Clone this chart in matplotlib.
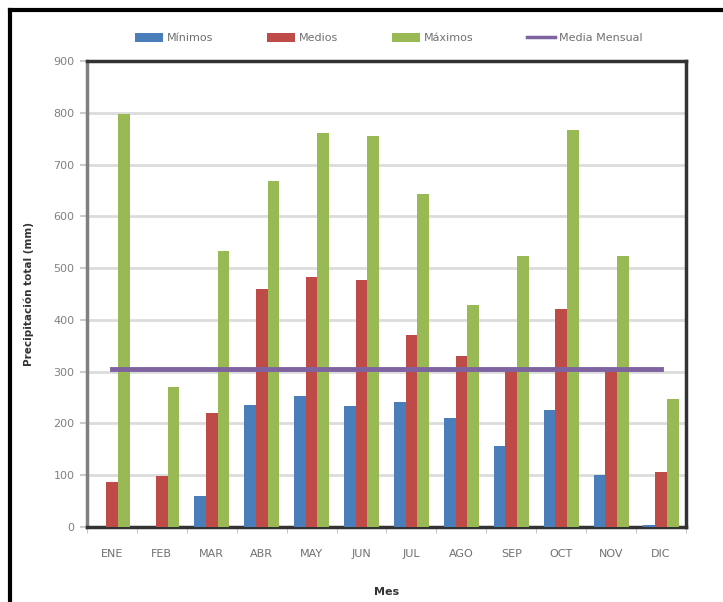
import matplotlib
matplotlib.use("Agg")
import matplotlib.pyplot as plt
import numpy as np
from matplotlib.lines import Line2D
from matplotlib.patches import Patch

months = ["ENE", "FEB", "MAR", "ABR", "MAY", "JUN", "JUL", "AGO", "SEP", "OCT", "NOV", "DIC"]
minimos = [0, 0, 60, 235, 253, 234, 242, 211, 157, 226, 101, 3]
medios = [86, 98, 221, 460, 483, 478, 371, 331, 305, 421, 305, 107]
maximos = [797, 270, 533, 668, 761, 755, 643, 428, 523, 766, 523, 247]
media_mensual = 305

c_blue = "#4A7EBB"
c_red = "#BE4B48"
c_green = "#98B954"
c_purple = "#7F63A1"

fig = plt.figure(figsize=(7.23, 6.02), dpi=100)
ax = fig.add_axes([87/723, 1 - 527/602, (686 - 87)/723, (527 - 61)/602])

x = np.arange(len(months))
w = 0.235
ax.bar(x - w, minimos, w, color=c_blue, zorder=3)
ax.bar(x, medios, w, color=c_red, zorder=3)
ax.bar(x + w, maximos, w, color=c_green, zorder=3)
ax.plot([x[0], x[-1]], [media_mensual, media_mensual], color=c_purple, lw=3.5, zorder=4)

ax.set_xlim(-0.5, len(months) - 0.5)
ax.set_ylim(0, 900)
ax.set_yticks(np.arange(0, 901, 100))
ax.grid(axis="y", color="#dcdcdc", lw=2, zorder=0)
ax.set_axisbelow(True)

ax.set_xticks(x)
ax.set_xticklabels(months)
ax.set_xticks(np.arange(-0.5, len(months), 1), minor=True)
ax.tick_params(axis="x", which="major", length=0, pad=16, labelsize=8, labelcolor="#707070")
ax.tick_params(axis="x", which="minor", length=4, color="#bbbbbb", direction="out")
ax.tick_params(axis="y", length=5, color="#cccccc", width=1.5, pad=4, labelsize=8, labelcolor="#808080")

for s in ["top", "right", "bottom"]:
    ax.spines[s].set_color("#333333")
    ax.spines[s].set_linewidth(2.5)
ax.spines["left"].set_color("#808080")
ax.spines["left"].set_linewidth(2.5)

ax.set_ylabel("Precipitación total (mm)", fontsize=7.5, fontweight="bold", color="#333333", labelpad=14)
ax.set_xlabel("Mes", fontsize=8, fontweight="bold", color="#333333", labelpad=20)

handles = [
    Patch(facecolor=c_blue, label="Mínimos"),
    Patch(facecolor=c_red, label="Medios"),
    Patch(facecolor=c_green, label="Máximos"),
    Line2D([0], [0], color=c_purple, lw=2.5, label="Media Mensual"),
]
fig.legend(handles=handles, loc="center", bbox_to_anchor=(0.538, 1 - 38/602), ncol=4,
           frameon=False, fontsize=8, labelcolor="#707070", handlelength=2.5,
           handleheight=0.9, columnspacing=4.8, handletextpad=0.4)

# outer frame (top and left edges only)
fig.add_artist(Line2D([10/723, 10/723], [0, 1 - 10/602], color="black", lw=3, transform=fig.transFigure))
fig.add_artist(Line2D([10/723, 1], [1 - 10/602, 1 - 10/602], color="black", lw=3, transform=fig.transFigure))

fig.savefig("out.png", dpi=100)
